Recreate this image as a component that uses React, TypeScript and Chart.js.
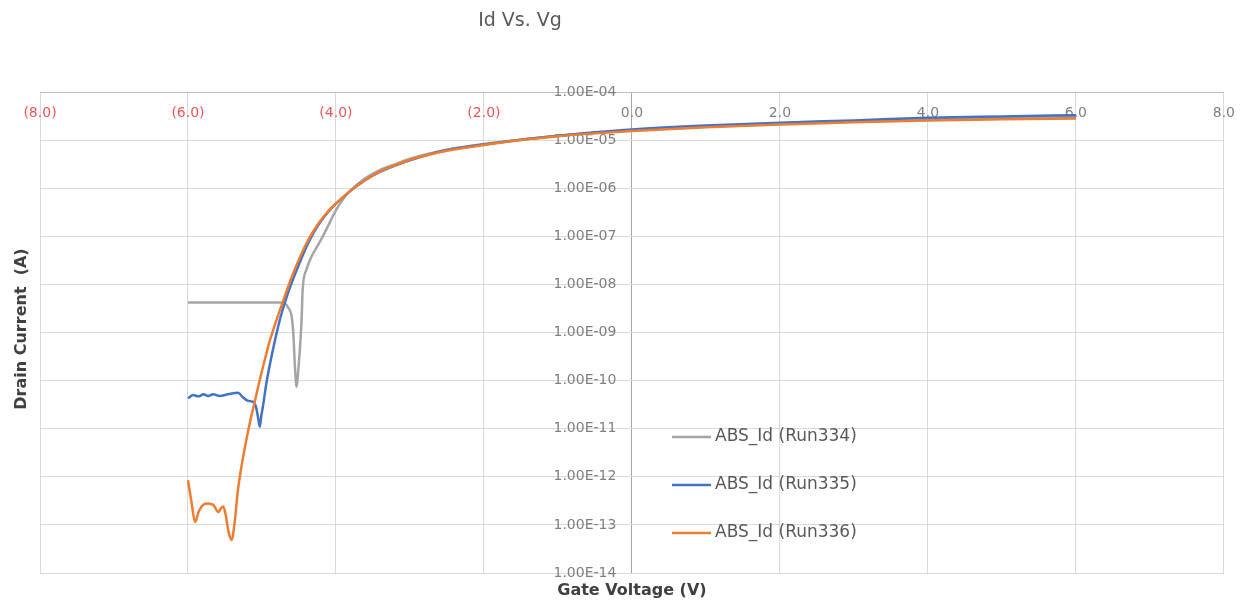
import React, { useEffect, useRef } from 'react';
import { Chart, registerables } from 'chart.js';

Chart.register(...registerables);

const TITLE = 'Id Vs. Vg';
const X_TITLE = 'Gate Voltage (V)';
const Y_TITLE = 'Drain Current  (A)';

const X_TICKS = [-8, -6, -4, -2, 0, 2, 4, 6, 8];
const X_TICK_LABELS = ['(8.0)', '(6.0)', '(4.0)', '(2.0)', '0.0', '2.0', '4.0', '6.0', '8.0'];
const Y_TICKS = [1e-14, 1e-13, 1e-12, 1e-11, 1e-10, 1e-9, 1e-8, 1e-7, 1e-6, 1e-5, 1e-4];
const Y_TICK_LABELS = ['1.00E-14', '1.00E-13', '1.00E-12', '1.00E-11', '1.00E-10', '1.00E-09', '1.00E-08', '1.00E-07', '1.00E-06', '1.00E-05', '1.00E-04'];

const SERIES_LABELS = ['ABS_Id (Run334)', 'ABS_Id (Run335)', 'ABS_Id (Run336)'];
const SERIES_COLORS = ['#A5A5A5', '#4472C4', '#ED7D31'];

// Run334
const GRAY_V = [-6.0, -5.5, -5.0, -4.76, -4.69, -4.64, -4.6, -4.575, -4.555, -4.532, -4.51, -4.49, -4.465, -4.45, -4.4, -4.33, -4.25, -4.17, -4.08, -4.0, -3.9, -3.8, -3.6, -3.4, -3.2, -3.0, -2.5, -2.0, -1.5, -1.0, -0.5, 0, 1, 2, 3, 4, 5, 6];
const GRAY_I = [4.2e-9, 4.2e-9, 4.2e-9, 4.2e-9, 4.0e-9, 3.2e-9, 2.2e-9, 8.9e-10, 2.0e-10, 7.4e-11, 1.6e-10, 4.0e-10, 1.8e-9, 7.9e-9, 2.0e-8, 3.8e-8, 6.3e-8, 1.05e-7, 2.0e-7, 3.5e-7, 6.0e-7, 9.1e-7, 1.62e-6, 2.4e-6, 3.16e-6, 4.1e-6, 6.3e-6, 8.3e-6, 1.02e-5, 1.23e-5, 1.41e-5, 1.58e-5, 1.9e-5, 2.2e-5, 2.45e-5, 2.7e-5, 2.9e-5, 3.1e-5];

// Run335
const BLUE_V = [-6.0, -5.93, -5.86, -5.79, -5.73, -5.66, -5.57, -5.46, -5.32, -5.27, -5.19, -5.12, -5.08, -5.05, -5.03, -5.01, -4.98, -4.94, -4.89, -4.83, -4.76, -4.7, -4.6, -4.5, -4.4, -4.3, -4.2, -4.1, -4.0, -3.8, -3.6, -3.4, -3.2, -3.0, -2.5, -2.0, -1.5, -1.0, -0.5, 0, 1, 2, 3, 4, 5, 6];
const BLUE_I = [4.3e-11, 5.0e-11, 4.7e-11, 5.2e-11, 4.8e-11, 5.2e-11, 4.8e-11, 5.2e-11, 5.6e-11, 4.7e-11, 3.8e-11, 3.6e-11, 2.8e-11, 1.6e-11, 1.1e-11, 1.8e-11, 3.4e-11, 8.9e-11, 2.3e-10, 6.3e-10, 1.8e-9, 3.8e-9, 1.07e-8, 2.6e-8, 6.0e-8, 1.2e-7, 2.1e-7, 3.3e-7, 4.8e-7, 8.9e-7, 1.48e-6, 2.2e-6, 2.95e-6, 3.8e-6, 6.2e-6, 8.1e-6, 1.02e-5, 1.23e-5, 1.45e-5, 1.66e-5, 2.0e-5, 2.3e-5, 2.57e-5, 2.9e-5, 3.1e-5, 3.3e-5];

// Run336
const ORANGE_V = [-6.0, -5.95, -5.905, -5.86, -5.815, -5.77, -5.726, -5.69, -5.658, -5.62, -5.59, -5.555, -5.523, -5.49, -5.45, -5.41, -5.37, -5.33, -5.3, -5.25, -5.2, -5.15, -5.1, -5.05, -5.0, -4.95, -4.9, -4.85, -4.8, -4.7, -4.6, -4.5, -4.4, -4.3, -4.2, -4.1, -4.0, -3.8, -3.6, -3.4, -3.2, -3.0, -2.5, -2.0, -1.5, -1.0, -0.5, 0, 1, 2, 3, 4, 5, 6];
const ORANGE_I = [8.5e-13, 2.8e-13, 1.15e-13, 1.8e-13, 2.4e-13, 2.75e-13, 2.8e-13, 2.7e-13, 2.6e-13, 2.1e-13, 1.85e-13, 2.2e-13, 2.4e-13, 1.6e-13, 7e-14, 4.9e-14, 1.1e-13, 4.5e-13, 1.0e-12, 2.8e-12, 7.1e-12, 1.66e-11, 3.5e-11, 7.6e-11, 1.6e-10, 3.2e-10, 6.3e-10, 1.1e-9, 1.9e-9, 5.2e-9, 1.4e-8, 3.3e-8, 7.1e-8, 1.32e-7, 2.2e-7, 3.4e-7, 4.8e-7, 8.9e-7, 1.5e-6, 2.24e-6, 3.0e-6, 3.9e-6, 6.0e-6, 7.9e-6, 1.0e-5, 1.2e-5, 1.38e-5, 1.55e-5, 1.86e-5, 2.1e-5, 2.35e-5, 2.57e-5, 2.7e-5, 2.8e-5];

const FONT = '"DejaVu Sans", "Liberation Sans", sans-serif';

const pts = (vs: number[], is: number[]) => vs.map((v, i) => ({ x: v, y: is[i] }));

const textPlugin = {
  id: 'textPlugin',
  afterDraw(chart: any) {
    const ctx = chart.ctx;
    const area = chart.chartArea;
    ctx.save();
    // Title
    ctx.fillStyle = '#595959';
    ctx.font = `19px ${FONT}`;
    ctx.textAlign = 'center';
    ctx.textBaseline = 'middle';
    ctx.fillText(TITLE, 520, 21);
    // X title
    ctx.fillStyle = '#404040';
    ctx.font = `bold 16px ${FONT}`;
    ctx.fillText(X_TITLE, (area.left + area.right) / 2, 591);
    // Y title
    ctx.save();
    ctx.translate(22, 329);
    ctx.rotate(-Math.PI / 2);
    ctx.fillText(Y_TITLE, 0, 0);
    ctx.restore();
    // Legend
    const rows = [437, 485, 533];
    chart.data.datasets.forEach((ds: any, i: number) => {
      const y = rows[i];
      ctx.strokeStyle = ds.borderColor;
      ctx.lineWidth = 2.5;
      ctx.beginPath();
      ctx.moveTo(672, y);
      ctx.lineTo(711, y);
      ctx.stroke();
      ctx.fillStyle = '#595959';
      ctx.font = `17px ${FONT}`;
      ctx.textAlign = 'left';
      ctx.textBaseline = 'middle';
      ctx.fillText(ds.label, 715, y);
    });
    ctx.restore();
  },
};

export default function App() {
  const ref = useRef<HTMLCanvasElement>(null);
  useEffect(() => {
    document.body.style.margin = '0';
    const seriesV = [GRAY_V, BLUE_V, ORANGE_V];
    const seriesI = [GRAY_I, BLUE_I, ORANGE_I];
    const chart = new Chart(ref.current as HTMLCanvasElement, {
      type: 'line',
      data: {
        datasets: SERIES_LABELS.map((label, i) => ({
          label,
          data: pts(seriesV[i], seriesI[i]),
          borderColor: SERIES_COLORS[i],
          backgroundColor: SERIES_COLORS[i],
          borderWidth: 2.5,
          pointRadius: 0,
          fill: false,
          cubicInterpolationMode: 'monotone' as const,
          order: 3 - i,
        })),
      },
      options: {
        animation: false,
        responsive: true,
        maintainAspectRatio: false,
        layout: { padding: { left: 40, right: 23, top: 92, bottom: 30 } },
        plugins: {
          legend: { display: false },
          title: { display: false },
          tooltip: { enabled: false },
        },
        scales: {
          x: {
            type: 'linear',
            min: -8,
            max: 8,
            position: { y: 1e-4 } as any,
            afterBuildTicks: (scale: any) => {
              scale.ticks = X_TICKS.map((v) => ({ value: v }));
            },
            ticks: {
              padding: 13,
              maxRotation: 0,
              autoSkip: false,
              font: { family: FONT, size: 14 },
              color: (c: any) => (c.tick && c.tick.value < 0 ? '#E8585A' : '#7F7F7F'),
              callback: (_v: any, idx: number) => X_TICK_LABELS[idx],
            },
            grid: {
              color: (c: any) => (c.tick && c.tick.value === 0 ? '#A6A6A6' : '#D9D9D9'),
              lineWidth: 1,
              drawTicks: false,
            },
            border: { display: true, color: '#BFBFBF', width: 1 },
          },
          y: {
            type: 'logarithmic',
            min: 1e-14,
            max: 1e-4,
            // labels sit just left of the x = 0 line, as in the reference
            position: { x: -0.21 } as any,
            afterBuildTicks: (scale: any) => {
              scale.ticks = Y_TICKS.map((v) => ({ value: v }));
            },
            ticks: {
              autoSkip: false,
              font: { family: FONT, size: 14 },
              color: '#7F7F7F',
              callback: (_v: any, idx: number) => Y_TICK_LABELS[idx],
            },
            grid: { color: '#D9D9D9', lineWidth: 1, drawTicks: false },
            border: { display: false },
          },
        },
      },
      plugins: [textPlugin],
    });
    return () => chart.destroy();
  }, []);
  return (
    <div style={{ width: 1248, height: 603, position: 'relative' }}>
      <canvas ref={ref} />
    </div>
  );
}
